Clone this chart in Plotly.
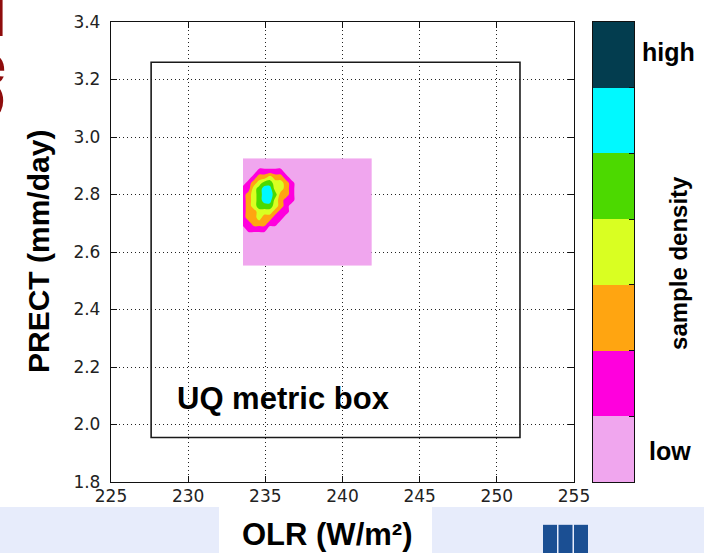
import plotly.graph_objects as go

# ---- data -------------------------------------------------------------
# OLR (W/m^2) grid columns and PRECT (mm/day) grid rows of the sampled region
olr = [233.55, 233.9, 234.25, 234.6, 234.95, 235.3, 235.65, 236.0,
       236.35, 236.7, 237.05, 237.4, 241.9]
prect = [2.552, 2.66, 2.68, 2.70, 2.72, 2.74, 2.76, 2.78, 2.80,
         2.82, 2.84, 2.86, 2.88, 2.90, 2.926]

# binned sample density (0 = low ... 6 = high), one row per PRECT value
density = [
    [0, 0, 0, 0, 0, 0, 0, 0, 0, 0, 0, 0, 0],
    [0, 0, 0, 0, 0, 0, 0, 0, 0, 0, 0, 0, 0],
    [0, 1, 1, 1, 1, 0, 0, 0, 0, 0, 0, 0, 0],
    [1, 1, 2, 2, 2, 1, 1, 0, 0, 0, 0, 0, 0],
    [1, 2, 2, 3, 2, 2, 1, 1, 0, 0, 0, 0, 0],
    [1, 2, 2, 3, 3, 3, 2, 1, 1, 0, 0, 0, 0],
    [1, 2, 3, 4, 4, 4, 3, 2, 1, 0, 0, 0, 0],
    [1, 2, 3, 4, 5, 5, 3, 2, 1, 1, 0, 0, 0],
    [1, 2, 3, 4, 5, 5, 4, 2, 2, 1, 0, 0, 0],
    [1, 1, 3, 4, 5, 5, 3, 3, 2, 1, 0, 0, 0],
    [0, 1, 2, 3, 4, 4, 3, 3, 2, 1, 0, 0, 0],
    [0, 0, 1, 2, 2, 3, 2, 2, 1, 0, 0, 0, 0],
    [0, 0, 0, 1, 1, 1, 1, 1, 0, 0, 0, 0, 0],
    [0, 0, 0, 0, 0, 0, 0, 0, 0, 0, 0, 0, 0],
    [0, 0, 0, 0, 0, 0, 0, 0, 0, 0, 0, 0, 0],
]

density_levels = [0, 1, 2, 3, 4, 5, 6]
density_colors = ["#f0a6ee", "#ff00dd", "#ffa511", "#d9ff22",
                  "#4cd900", "#00f9ff", "#033d4f"]

x_ticks = [225, 230, 235, 240, 245, 250, 255]
y_ticks = [1.8, 2.0, 2.2, 2.4, 2.6, 2.8, 3.0, 3.2, 3.4]

# UQ metric box bounds
uq_box_olr = [227.6, 251.5]
uq_box_prect = [1.955, 3.26]

# ---- page geometry helpers (pixels -> paper coordinates) ----------------
W, H = 704, 553
ML, MR, MT, MB = 111, 70, 20, 71
PW = W - ML - MR
PH = H - MT - MB


def px(x):
    return (x - ML) / PW


def py(y):
    return (H - MB - y) / PH


top_level = density_levels[-1]
colorscale = [[lv / top_level, c] for lv, c in zip(density_levels, density_colors)]

fig = go.Figure()

fig.add_trace(go.Contour(
    x=olr, y=prect, z=density,
    colorscale=colorscale,
    contours=dict(start=0.5, end=5.5, size=1, coloring="fill"),
    line=dict(width=0),
    showscale=False,
    hoverinfo="skip",
))

# colour key drawn as a one-column heatmap
fig.add_trace(go.Heatmap(
    z=[[lv] for lv in density_levels],
    x=[0], y=density_levels,
    colorscale=colorscale, zmin=0, zmax=top_level,
    showscale=False, xaxis="x2", yaxis="y2", hoverinfo="skip",
))

tick_font = dict(family="DejaVu Sans", size=17, color="#222222")
grid = dict(showgrid=True, gridcolor="#222222", gridwidth=1, griddash="1px,3px")
axis_line = dict(showline=True, linecolor="#111111", linewidth=1.3,
                 mirror="ticks", ticks="inside", ticklen=6,
                 tickcolor="#111111", zeroline=False)

fig.update_layout(
    width=W, height=H,
    margin=dict(l=ML, r=MR, t=MT, b=MB),
    paper_bgcolor="white", plot_bgcolor="white",
    showlegend=False,
    xaxis=dict(domain=[0, px(574)], range=[225, 255], tickvals=x_ticks,
               tickfont=tick_font, ticklabelstandoff=-2, **grid, **axis_line),
    yaxis=dict(domain=[0, 1], range=[1.8, 3.4], tickvals=y_ticks,
               tickformat=".1f", tickfont=tick_font, ticklabelstandoff=6,
               **grid, **axis_line),
    xaxis2=dict(domain=[px(593), 1], range=[-0.5, 0.5], anchor="y2",
                showticklabels=False, showgrid=False, zeroline=False,
                showline=True, linecolor="#111111", linewidth=1.3, mirror=True),
    yaxis2=dict(domain=[0, 1], range=[-0.5, 6.5], anchor="x2", side="right",
                tickvals=[lv + 0.5 for lv in density_levels[:-1]],
                ticks="inside", ticklen=5, tickcolor="#111111",
                showticklabels=False, showgrid=False, zeroline=False,
                showline=True, linecolor="#111111", linewidth=1.3, mirror=True),
)

shapes = [
    dict(type="rect", xref="x", yref="y",
         x0=uq_box_olr[0], x1=uq_box_olr[1], y0=uq_box_prect[0], y1=uq_box_prect[1],
         line=dict(color="#1a1a1a", width=1.6), fillcolor="rgba(0,0,0,0)"),
    # slide footer bands
    dict(type="rect", xref="paper", yref="paper", layer="below",
         x0=px(0), x1=px(219), y0=py(507), y1=py(560),
         line=dict(width=0), fillcolor="#e7ecfb"),
    dict(type="rect", xref="paper", yref="paper", layer="below",
         x0=px(432), x1=px(704), y0=py(507), y1=py(560),
         line=dict(width=0), fillcolor="#e7ecfb"),
]
for x0, x1 in [(543, 557), (558.5, 572.5), (574, 588)]:
    shapes.append(dict(type="rect", xref="paper", yref="paper",
                       x0=px(x0), x1=px(x1), y0=py(525), y1=py(560),
                       line=dict(width=0), fillcolor="#1b4f93"))
fig.update_layout(shapes=shapes)

bold = "Liberation Sans"
red = "#8e0c0c"
ann = [
    dict(x=236.2, y=2.091, xref="x", yref="y", text="<b>UQ metric box</b>",
         font=dict(family=bold, size=31, color="black")),
    dict(x=px(327), y=py(535), xref="paper", yref="paper",
         text="<b>OLR (W/m²)</b>", font=dict(family=bold, size=31, color="black")),
    dict(x=px(38), y=py(251), xref="paper", yref="paper", textangle=-90,
         text="<b>PRECT (mm/day)</b>", font=dict(family=bold, size=30, color="black")),
    dict(x=px(668), y=py(50), xref="paper", yref="paper",
         text="<b>high</b>", font=dict(family=bold, size=25, color="black")),
    dict(x=px(670), y=py(451), xref="paper", yref="paper",
         text="<b>low</b>", font=dict(family=bold, size=25, color="black")),
    dict(x=px(679), y=py(262), xref="paper", yref="paper", textangle=-90,
         text="<b>sample density</b>", font=dict(family=bold, size=24, color="black")),
]
for a in ann:
    a["xanchor"] = "center"
    a["yanchor"] = "middle"

# slide title letters running off the left edge
for ch, xr, yc in [("l", 8.5, 14), ("e", 8, 63), ("O", 8, 99)]:
    ann.append(dict(x=px(xr), y=py(yc), xref="paper", yref="paper",
                    xanchor="right", yanchor="middle", text=f"<b>{ch}</b>",
                    font=dict(family=bold, size=56, color=red)))
for a in ann:
    a["showarrow"] = False
fig.update_layout(annotations=ann)

fig.write_html("out.html")
